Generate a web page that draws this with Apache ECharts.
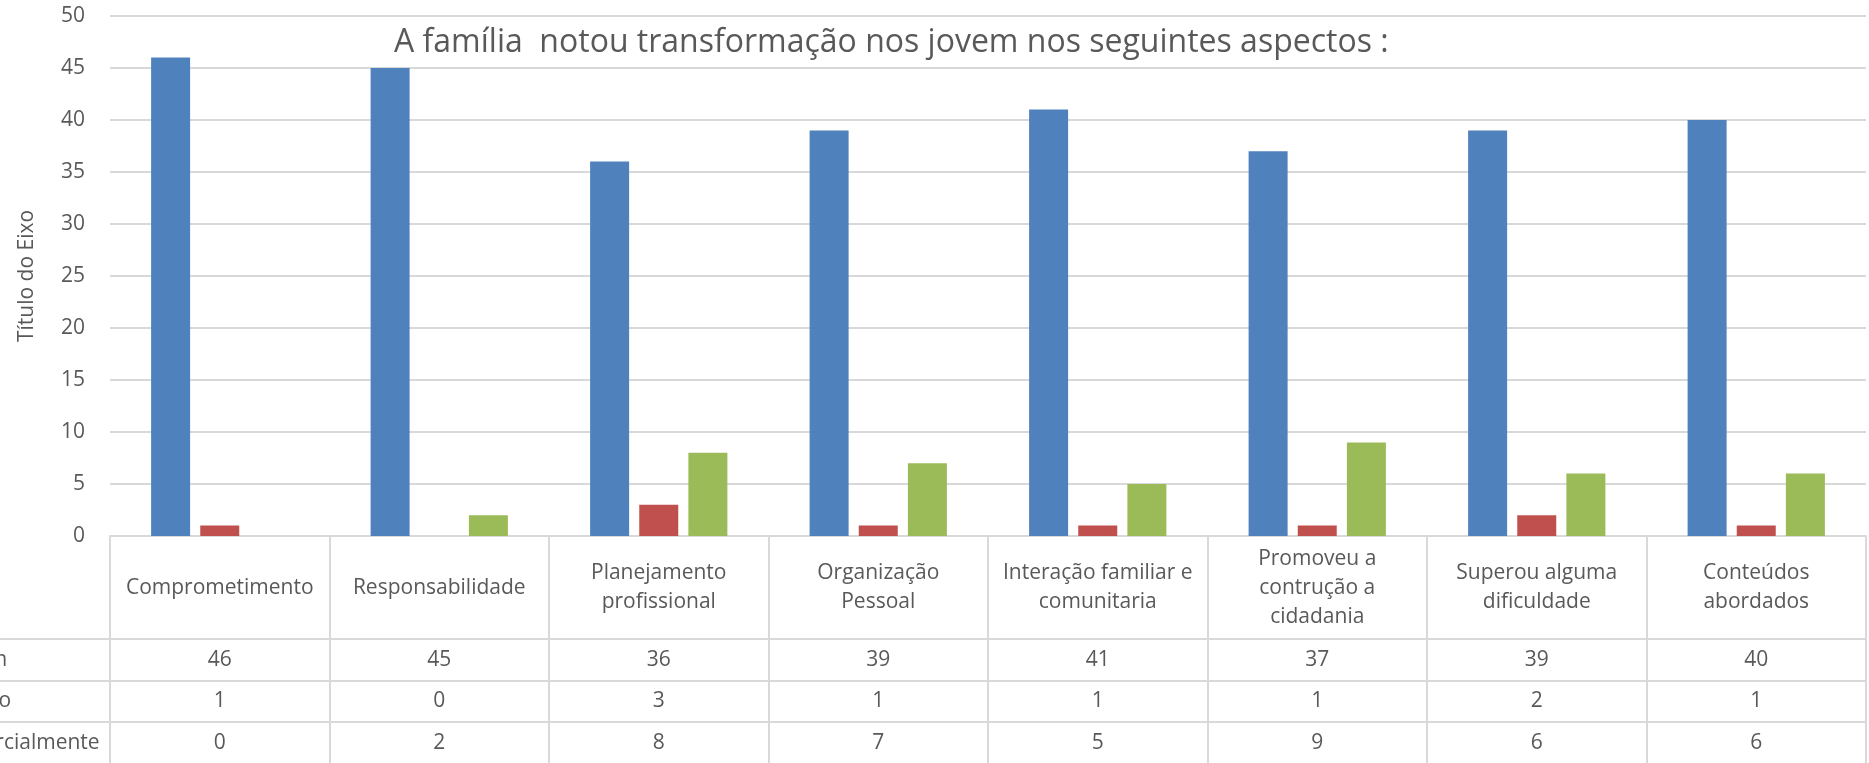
<!DOCTYPE html>
<html><head><meta charset="utf-8">
<script src="https://cdn.jsdelivr.net/npm/echarts@6/dist/echarts.min.js"></script>
<style>html,body{margin:0;padding:0;background:#fff}#c{width:1869px;height:763px}</style>
</head><body><div id="c"></div>
<script>
const titleText = 'A família  notou transformação nos jovem nos seguintes aspectos :';
const yAxisTitle = 'Título do Eixo';
const categories = ['Comprometimento', 'Responsabilidade', 'Planejamento\nprofissional', 'Organização\nPessoal',
  'Interação familiar e\ncomunitaria', 'Promoveu a\ncontrução a\ncidadania', 'Superou alguma\ndificuldade', 'Conteúdos\nabordados'];
const seriesNames = ['Sim', 'Não', 'Parcialmente'];
const sim = [46, 45, 36, 39, 41, 37, 39, 40];
const nao = [1, 0, 3, 1, 1, 1, 2, 1];
const parcialmente = [0, 2, 8, 7, 5, 9, 6, 6];
const yMin = 0, yMax = 50, yInterval = 5;

const seriesValues = [sim, nao, parcialmente];
const colors = ['#4F81BD', '#C0504D', '#9BBB59'];
const FONT = 'Open Sans';
const TXT = '#595959';
const LINE = '#d9d9d9';

const chart = echarts.init(document.getElementById('c'), null, { renderer: 'canvas' });

const valueAxes = seriesValues.map((vals, k) => ({
  type: 'category', gridIndex: 0, position: 'bottom',
  data: categories, offset: [103, 145, 186][k],
  axisLine: { show: false }, axisTick: { show: false }, splitLine: { show: false },
  axisLabel: {
    interval: 0, margin: [21, 20, 21][k], verticalAlign: 'middle',
    fontFamily: FONT, fontSize: 21, color: TXT,
    formatter: (v, i) => String(vals[i])
  }
}));

const option = {
  animation: false,
  backgroundColor: '#ffffff',
  color: colors,
  title: {
    text: titleText, left: 389, top: 22,
    textStyle: { fontFamily: FONT, fontSize: 32, fontWeight: 'normal', color: TXT }
  },
  grid: [
    { left: 110, right: 3, top: 16, height: 520, containLabel: false, outerBoundsMode: 'none' },
    { left: -29, right: 3, top: 639, height: 124.5, containLabel: false, outerBoundsMode: 'none' }
  ],
  xAxis: [
    {
      type: 'category', gridIndex: 0, data: categories, position: 'bottom',
      axisLine: { show: true, lineStyle: { color: LINE, width: 2 } },
      axisTick: { show: true, interval: 0, length: 232, lineStyle: { color: LINE, width: 2 } },
      axisLabel: {
        interval: 0, margin: 52, verticalAlign: 'middle', align: 'center',
        lineHeight: 29, fontFamily: FONT, fontSize: 21, color: TXT
      },
      splitLine: { show: false }
    },
    ...valueAxes,
    { type: 'value', gridIndex: 1, show: false, min: 0, max: 1 }
  ],
  yAxis: [
    {
      type: 'value', gridIndex: 0, min: yMin, max: yMax, interval: yInterval,
      name: yAxisTitle, nameLocation: 'middle', nameGap: 72, nameRotate: 90, nameMoveOverlap: false,
      nameTextStyle: { fontFamily: FONT, fontSize: 21, color: TXT },
      axisLine: { show: false }, axisTick: { show: false },
      axisLabel: { margin: 25, fontFamily: FONT, fontSize: 21, color: TXT },
      splitLine: { show: true, lineStyle: { color: LINE, width: 2 } }
    },
    {
      type: 'category', gridIndex: 1, data: seriesNames, inverse: true,
      axisLine: { show: false }, axisTick: { show: false },
      axisLabel: { inside: true, margin: 0, align: 'left', fontFamily: FONT, fontSize: 21, color: TXT },
      splitLine: { show: true, interval: 0, lineStyle: { color: LINE, width: 2 } }
    }
  ],
  series: seriesValues.map((vals, k) => ({
    name: seriesNames[k], type: 'bar', xAxisIndex: 0, yAxisIndex: 0,
    data: vals, barWidth: 39, barGap: '26%',
    itemStyle: { color: colors[k] }
  }))
};
chart.setOption(option);
</script>
</body></html>
